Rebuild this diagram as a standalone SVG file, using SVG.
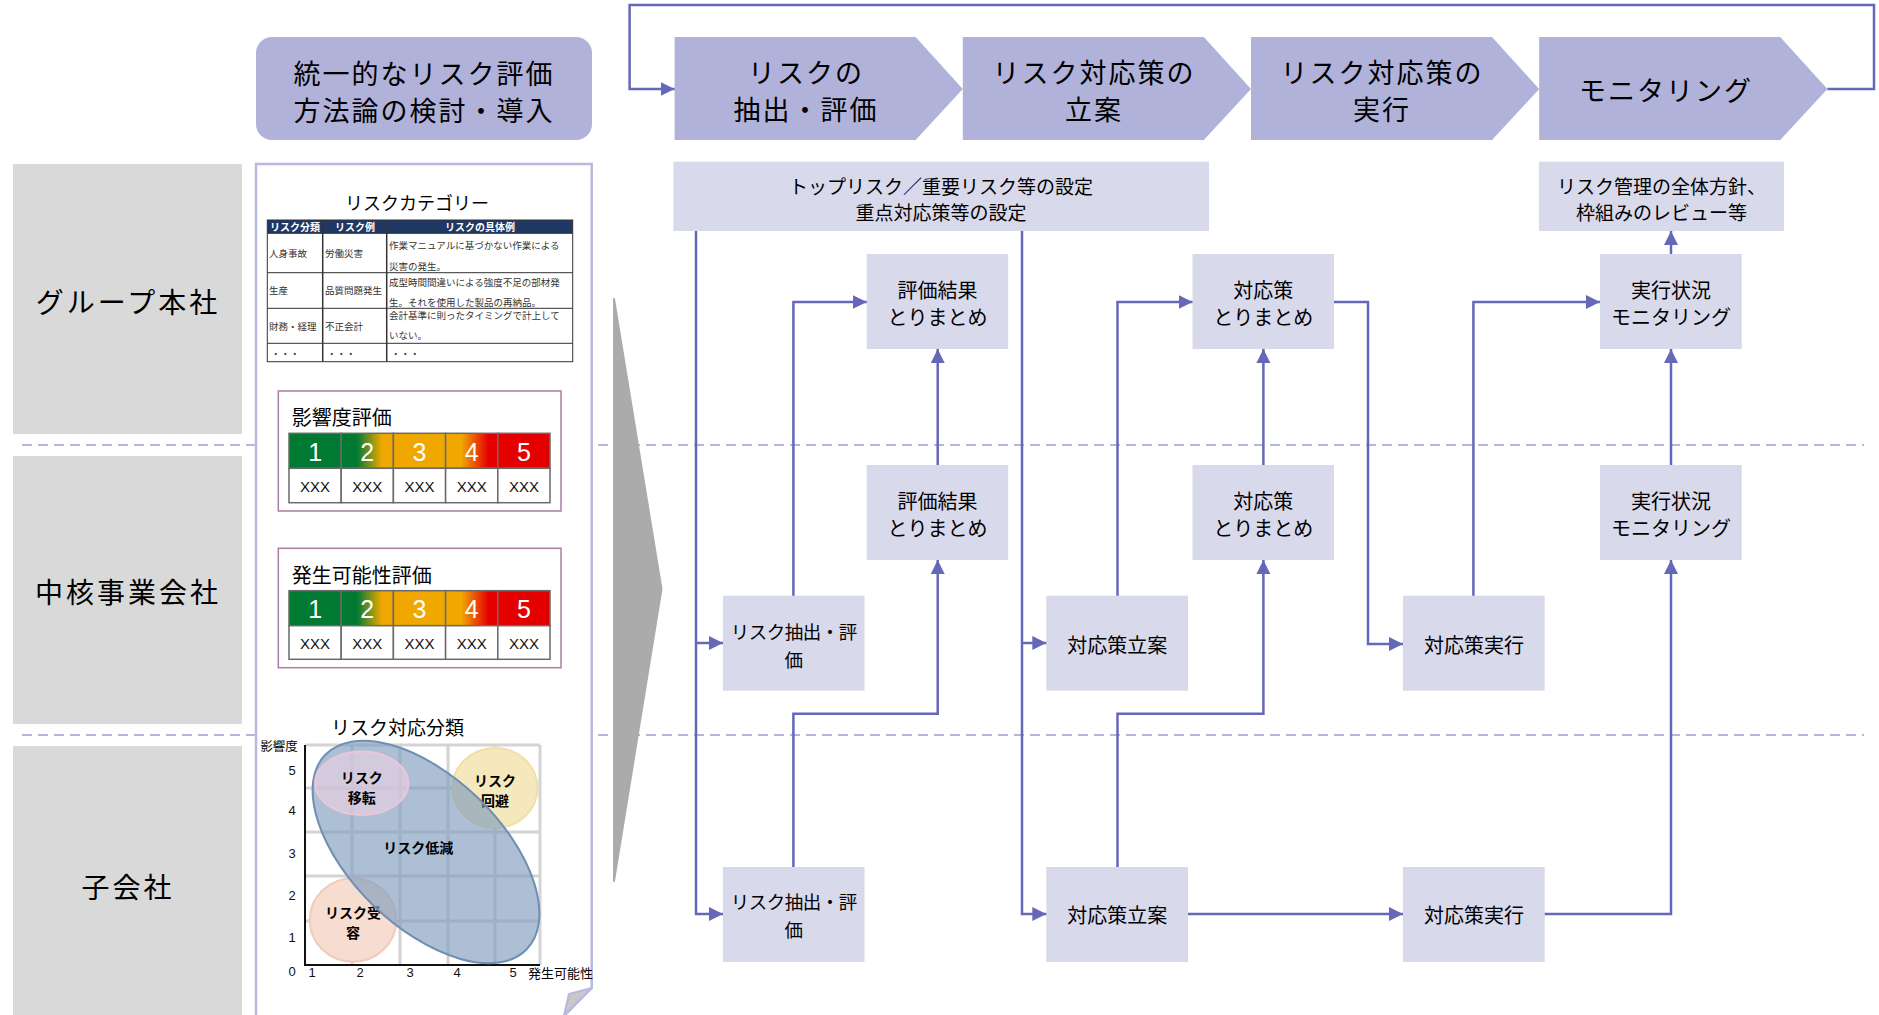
<svg xmlns="http://www.w3.org/2000/svg" width="1879" height="1015" viewBox="0 0 1879 1015">
<style>
.jp{font-family:'Noto Sans CJK JP','Noto Sans CJK SC',sans-serif;fill:#000}
.lat{font-family:'Liberation Sans',Arial,sans-serif}
.lane{fill:#d9d9d9}
.lanetxt{font-size:28px;letter-spacing:3px}
.dash{stroke:#b4b6de;stroke-width:2;stroke-dasharray:10,6;fill:none}
.chev{fill:#b0b2d9}
.chevtxt{font-size:27px;letter-spacing:2px}
.node{fill:#d9d9ec}
.ntxt{font-size:20px}
.etxt{font-size:18.5px}
.btxt{font-size:19px}
.conn{fill:none;stroke:#6567b8;stroke-width:2.5}
.arr{marker-end:url(#ah)}
.tb{font-size:9.5px;fill:#333}
.th{font-size:10px;font-weight:bold;fill:#fff}
.cell{stroke:#6a6a6a;stroke-width:1.5}
.num{font-size:25px;fill:#fff}
.xxx{font-size:15px;fill:#111}
.grid{stroke:#d4d4d4;stroke-width:3;fill:none}
.ax{font-size:13px;fill:#111}
.bl{font-size:14px;font-weight:bold}
</style>
<defs>
<marker id="ah" markerUnits="userSpaceOnUse" markerWidth="15" markerHeight="15" refX="14" refY="7" orient="auto">
<path d="M0,0 L14,7 L0,14 z" fill="#6567b8"/>
</marker>
<linearGradient id="g2" x1="0" y1="0" x2="1" y2="0">
<stop offset="0" stop-color="#007a33"/><stop offset="0.3" stop-color="#007a33"/><stop offset="0.78" stop-color="#f0a800"/><stop offset="1" stop-color="#f0a800"/>
</linearGradient>
<linearGradient id="g4" x1="0" y1="0" x2="1" y2="0">
<stop offset="0" stop-color="#f0a800"/><stop offset="0.3" stop-color="#f0a800"/><stop offset="0.82" stop-color="#e50000"/><stop offset="1" stop-color="#e50000"/>
</linearGradient>
</defs>
<rect width="1879" height="1015" fill="#fff"/>

<!-- lanes -->
<g id="lane-hq"><rect class="lane" x="13" y="164" width="229" height="270"/><text class="jp lanetxt" x="128" y="301" text-anchor="middle" dominant-baseline="central">グループ本社</text></g>
<g id="lane-core"><rect class="lane" x="13" y="456" width="229" height="268"/><text class="jp lanetxt" x="128" y="591" text-anchor="middle" dominant-baseline="central">中核事業会社</text></g>
<g id="lane-sub"><rect class="lane" x="13" y="746" width="229" height="280"/><text class="jp lanetxt" x="128" y="886" text-anchor="middle" dominant-baseline="central">子会社</text></g>

<g id="lane-dividers">
<line class="dash" x1="22" y1="445" x2="1864" y2="445"/>
<line class="dash" x1="22" y1="735" x2="1864" y2="735"/>
</g>

<!-- method box -->
<g id="method">
<rect x="256" y="37" width="336" height="103" rx="16" fill="#b0b2d9"/>
<text class="jp chevtxt" x="424" y="72" text-anchor="middle" dominant-baseline="central">統一的なリスク評価</text>
<text class="jp chevtxt" x="424" y="109" text-anchor="middle" dominant-baseline="central">方法論の検討・導入</text>
</g>

<!-- left panel -->
<g id="panel">
<path d="M256,1015 V164 H591.7 V988 L565,1015" fill="#fff" stroke="#b8b8e0" stroke-width="2.5"/>
<path d="M591.7,988 L569,994 L564,1015 Z" fill="#c8c8c8" stroke="#b8b8e0" stroke-width="2" stroke-linejoin="round"/>

<text class="jp" x="417" y="202" font-size="18" text-anchor="middle" dominant-baseline="central">リスクカテゴリー</text>
<rect x="267.3" y="220" width="305.4" height="13.3" fill="#1f3864"/>
<text class="jp th" x="295" y="226.8" text-anchor="middle" dominant-baseline="central">リスク分類</text>
<text class="jp th" x="355" y="226.8" text-anchor="middle" dominant-baseline="central">リスク例</text>
<text class="jp th" x="480" y="226.8" text-anchor="middle" dominant-baseline="central">リスクの具体例</text>
<g stroke="#333" stroke-width="1" fill="none">
<rect x="267.3" y="220" width="305.4" height="141.7"/>
<line x1="267.3" y1="272.7" x2="572.7" y2="272.7"/>
<line x1="267.3" y1="308.3" x2="572.7" y2="308.3"/>
<line x1="267.3" y1="343.3" x2="572.7" y2="343.3"/>
<line x1="267.3" y1="233.3" x2="572.7" y2="233.3"/>
<line x1="322.7" y1="220" x2="322.7" y2="361.7" stroke-width="1.5"/>
<line x1="386.7" y1="220" x2="386.7" y2="361.7" stroke-width="1.5"/>
</g>
<g class="jp tb" dominant-baseline="central">
<text x="269" y="253">人身事故</text>
<text x="325" y="253">労働災害</text>
<text x="389" y="245">作業マニュアルに基づかない作業による</text>
<text x="389" y="266">災害の発生。</text>
<text x="269" y="290">生産</text>
<text x="325" y="290">品質問題発生</text>
<text x="389" y="281.7">成型時間間違いによる強度不足の部材発</text>
<text x="389" y="301.5">生。それを使用した製品の再納品。</text>
<text x="269" y="325.5">財務・経理</text>
<text x="325" y="325.5">不正会計</text>
<text x="389" y="315">会計基準に則ったタイミングで計上して</text>
<text x="389" y="335">いない。</text>
<text x="271" y="352.5">・・・</text>
<text x="327" y="352.5">・・・</text>
<text x="391" y="352.5">・・・</text>
</g>

<!-- impact -->
<rect x="278.3" y="391" width="282.7" height="120" fill="none" stroke="#ab7ea0" stroke-width="1.5"/>
<text class="jp" x="291.7" y="416.7" font-size="20" dominant-baseline="central">影響度評価</text>
<rect class="cell" x="289" y="433.3" width="52.2" height="35" fill="#007a33"/>
<rect class="cell" x="341.2" y="433.3" width="52.2" height="35" fill="url(#g2)"/>
<rect class="cell" x="393.4" y="433.3" width="52.2" height="35" fill="#f0a800"/>
<rect class="cell" x="445.6" y="433.3" width="52.2" height="35" fill="url(#g4)"/>
<rect class="cell" x="497.8" y="433.3" width="52.2" height="35" fill="#e50000"/>
<g class="lat num" text-anchor="middle" dominant-baseline="central">
<text x="315.1" y="452">1</text><text x="367.3" y="452">2</text><text x="419.5" y="452">3</text><text x="471.7" y="452">4</text><text x="523.9" y="452">5</text>
</g>
<g fill="#fff"><rect class="cell" x="289" y="468.3" width="52.2" height="34.4"/><rect class="cell" x="341.2" y="468.3" width="52.2" height="34.4"/><rect class="cell" x="393.4" y="468.3" width="52.2" height="34.4"/><rect class="cell" x="445.6" y="468.3" width="52.2" height="34.4"/><rect class="cell" x="497.8" y="468.3" width="52.2" height="34.4"/></g>
<g class="lat xxx" text-anchor="middle" dominant-baseline="central">
<text x="315.1" y="486">XXX</text><text x="367.3" y="486">XXX</text><text x="419.5" y="486">XXX</text><text x="471.7" y="486">XXX</text><text x="523.9" y="486">XXX</text>
</g>

<!-- likelihood -->
<rect x="278.3" y="548.3" width="282.7" height="119.4" fill="none" stroke="#ab7ea0" stroke-width="1.5"/>
<text class="jp" x="291.7" y="574.3" font-size="20" dominant-baseline="central">発生可能性評価</text>
<rect class="cell" x="289" y="590.7" width="52.2" height="35" fill="#007a33"/>
<rect class="cell" x="341.2" y="590.7" width="52.2" height="35" fill="url(#g2)"/>
<rect class="cell" x="393.4" y="590.7" width="52.2" height="35" fill="#f0a800"/>
<rect class="cell" x="445.6" y="590.7" width="52.2" height="35" fill="url(#g4)"/>
<rect class="cell" x="497.8" y="590.7" width="52.2" height="35" fill="#e50000"/>
<g class="lat num" text-anchor="middle" dominant-baseline="central">
<text x="315.1" y="609.4">1</text><text x="367.3" y="609.4">2</text><text x="419.5" y="609.4">3</text><text x="471.7" y="609.4">4</text><text x="523.9" y="609.4">5</text>
</g>
<g fill="#fff"><rect class="cell" x="289" y="625.7" width="52.2" height="33.6"/><rect class="cell" x="341.2" y="625.7" width="52.2" height="33.6"/><rect class="cell" x="393.4" y="625.7" width="52.2" height="33.6"/><rect class="cell" x="445.6" y="625.7" width="52.2" height="33.6"/><rect class="cell" x="497.8" y="625.7" width="52.2" height="33.6"/></g>
<g class="lat xxx" text-anchor="middle" dominant-baseline="central">
<text x="315.1" y="643">XXX</text><text x="367.3" y="643">XXX</text><text x="419.5" y="643">XXX</text><text x="471.7" y="643">XXX</text><text x="523.9" y="643">XXX</text>
</g>

<!-- response matrix -->
<text class="jp" x="397.5" y="726.7" font-size="19" text-anchor="middle" dominant-baseline="central">リスク対応分類</text>
<path class="grid" d="M352,745 V965 M400,745 V965 M448,745 V965 M495,745 V965 M540,745 V965 M305,745 H540 M305,788 H540 M305,832 H540 M305,876 H540 M305,921 H540"/>
<path d="M305,745 V965 H540" fill="none" stroke="#111" stroke-width="2"/>
<text class="jp" x="279" y="745" font-size="12.5" text-anchor="middle" dominant-baseline="central">影響度</text>
<g class="lat ax" text-anchor="middle" dominant-baseline="central">
<text x="292" y="770">5</text><text x="292" y="810">4</text><text x="292" y="853">3</text><text x="292" y="895">2</text><text x="292" y="937">1</text><text x="292" y="971">0</text>
<text x="312" y="972">1</text><text x="360" y="972">2</text><text x="410" y="972">3</text><text x="457" y="972">4</text><text x="513" y="972">5</text>
</g>
<text class="jp" x="528" y="972" font-size="13" dominant-baseline="central">発生可能性</text>

<ellipse cx="495" cy="788" rx="42.5" ry="40" fill="#f6e8bd" stroke="#f2dea6" stroke-width="2"/>
<text class="jp bl" x="495" y="780" text-anchor="middle" dominant-baseline="central">リスク</text>
<text class="jp bl" x="495" y="800" text-anchor="middle" dominant-baseline="central">回避</text>
<ellipse cx="353" cy="920" rx="43.3" ry="41.7" fill="#f6ddd0" stroke="#f1cbb8" stroke-width="2"/>
<text class="jp bl" x="353" y="911.7" text-anchor="middle" dominant-baseline="central">リスク受</text>
<text class="jp bl" x="353" y="931.7" text-anchor="middle" dominant-baseline="central">容</text>
<ellipse cx="426" cy="852" rx="140" ry="75" transform="rotate(44 426 852)" fill="#7f9cbd" fill-opacity="0.65" stroke="#6f8fb3" stroke-width="2"/>
<ellipse cx="361.7" cy="783.3" rx="46.7" ry="31.7" fill="#ecd3e3" fill-opacity="0.6" stroke="#ecc6d8" stroke-width="2"/>
<text class="jp bl" x="361.7" y="777.3" text-anchor="middle" dominant-baseline="central">リスク</text>
<text class="jp bl" x="361.7" y="796.7" text-anchor="middle" dominant-baseline="central">移転</text>
<text class="jp bl" x="418.3" y="846.7" text-anchor="middle" dominant-baseline="central">リスク低減</text>
</g>

<!-- big gray arrow -->
<g id="big-arrow"><path d="M614,299 L661.5,589 L614,881 Z" fill="#ababab" stroke="#ababab" stroke-width="2" stroke-linejoin="round"/></g>

<!-- process chevrons -->
<g id="step1"><path class="chev" d="M674.6,37 H915.6 L962.8,89 L915.6,140 H674.6 Z"/>
<text class="jp chevtxt" x="806" y="71" text-anchor="middle" dominant-baseline="central">リスクの</text>
<text class="jp chevtxt" x="806" y="108" text-anchor="middle" dominant-baseline="central">抽出・評価</text></g>
<g id="step2"><path class="chev" d="M962.8,37 H1203.8 L1251,89 L1203.8,140 H962.8 Z"/>
<text class="jp chevtxt" x="1094" y="71" text-anchor="middle" dominant-baseline="central">リスク対応策の</text>
<text class="jp chevtxt" x="1094" y="108" text-anchor="middle" dominant-baseline="central">立案</text></g>
<g id="step3"><path class="chev" d="M1251,37 H1492 L1539.2,89 L1492,140 H1251 Z"/>
<text class="jp chevtxt" x="1382" y="71" text-anchor="middle" dominant-baseline="central">リスク対応策の</text>
<text class="jp chevtxt" x="1382" y="108" text-anchor="middle" dominant-baseline="central">実行</text></g>
<g id="step4"><path class="chev" d="M1539.2,37 H1780.2 L1827.4,89 L1780.2,140 H1539.2 Z"/>
<text class="jp chevtxt" x="1666" y="89" text-anchor="middle" dominant-baseline="central">モニタリング</text></g>

<!-- nodes -->
<g id="n-top"><rect class="node" x="673.4" y="161.7" width="535.6" height="69.3"/>
<text class="jp btxt" x="941" y="185" text-anchor="middle" dominant-baseline="central">トップリスク／重要リスク等の設定</text>
<text class="jp btxt" x="941" y="211" text-anchor="middle" dominant-baseline="central">重点対応策等の設定</text></g>
<g id="n-review"><rect class="node" x="1539" y="161.7" width="245" height="69.3"/>
<text class="jp btxt" x="1661.5" y="185" text-anchor="middle" dominant-baseline="central">リスク管理の全体方針、</text>
<text class="jp btxt" x="1661.5" y="211" text-anchor="middle" dominant-baseline="central">枠組みのレビュー等</text></g>

<g id="n-eval-hq"><rect class="node" x="866.7" y="254" width="141.5" height="95"/>
<text class="jp ntxt" x="937.5" y="289" text-anchor="middle" dominant-baseline="central">評価結果</text>
<text class="jp ntxt" x="937.5" y="316" text-anchor="middle" dominant-baseline="central">とりまとめ</text></g>
<g id="n-eval-core"><rect class="node" x="866.7" y="465" width="141.5" height="95"/>
<text class="jp ntxt" x="937.5" y="500" text-anchor="middle" dominant-baseline="central">評価結果</text>
<text class="jp ntxt" x="937.5" y="527" text-anchor="middle" dominant-baseline="central">とりまとめ</text></g>
<g id="n-sum-hq"><rect class="node" x="1192.5" y="254" width="141.5" height="95"/>
<text class="jp ntxt" x="1263.3" y="289" text-anchor="middle" dominant-baseline="central">対応策</text>
<text class="jp ntxt" x="1263.3" y="316" text-anchor="middle" dominant-baseline="central">とりまとめ</text></g>
<g id="n-sum-core"><rect class="node" x="1192.5" y="465" width="141.5" height="95"/>
<text class="jp ntxt" x="1263.3" y="500" text-anchor="middle" dominant-baseline="central">対応策</text>
<text class="jp ntxt" x="1263.3" y="527" text-anchor="middle" dominant-baseline="central">とりまとめ</text></g>
<g id="n-mon-hq"><rect class="node" x="1600" y="254" width="141.7" height="95"/>
<text class="jp ntxt" x="1670.9" y="289" text-anchor="middle" dominant-baseline="central">実行状況</text>
<text class="jp ntxt" x="1670.9" y="316" text-anchor="middle" dominant-baseline="central">モニタリング</text></g>
<g id="n-mon-core"><rect class="node" x="1600" y="465" width="141.7" height="95"/>
<text class="jp ntxt" x="1670.9" y="500" text-anchor="middle" dominant-baseline="central">実行状況</text>
<text class="jp ntxt" x="1670.9" y="527" text-anchor="middle" dominant-baseline="central">モニタリング</text></g>

<g id="n-ext-core"><rect class="node" x="723" y="595.7" width="141.5" height="95"/>
<text class="jp etxt" x="793.7" y="631" text-anchor="middle" dominant-baseline="central" letter-spacing="-0.5">リスク抽出・評</text>
<text class="jp etxt" x="793.7" y="659" text-anchor="middle" dominant-baseline="central">価</text></g>
<g id="n-ext-sub"><rect class="node" x="723" y="867" width="141.5" height="95"/>
<text class="jp etxt" x="793.7" y="901" text-anchor="middle" dominant-baseline="central" letter-spacing="-0.5">リスク抽出・評</text>
<text class="jp etxt" x="793.7" y="929" text-anchor="middle" dominant-baseline="central">価</text></g>
<g id="n-plan-core"><rect class="node" x="1046.3" y="595.7" width="141.7" height="95"/>
<text class="jp ntxt" x="1117.2" y="644" text-anchor="middle" dominant-baseline="central">対応策立案</text></g>
<g id="n-plan-sub"><rect class="node" x="1046.3" y="867" width="141.7" height="95"/>
<text class="jp ntxt" x="1117.2" y="914" text-anchor="middle" dominant-baseline="central">対応策立案</text></g>
<g id="n-exec-core"><rect class="node" x="1403" y="595.7" width="141.7" height="95"/>
<text class="jp ntxt" x="1473.9" y="644" text-anchor="middle" dominant-baseline="central">対応策実行</text></g>
<g id="n-exec-sub"><rect class="node" x="1403" y="867" width="141.7" height="95"/>
<text class="jp ntxt" x="1473.9" y="914" text-anchor="middle" dominant-baseline="central">対応策実行</text></g>

<!-- connectors -->
<g id="connectors">
<path class="conn arr" d="M1827.4,89 H1874 V5 H629.6 V89 H674.6"/>
<path class="conn arr" d="M696,231 V914 H723"/>
<path class="conn arr" d="M696,643 H723"/>
<path class="conn arr" d="M1022,231 V914 H1046.3"/>
<path class="conn arr" d="M1022,643 H1046.3"/>
<path class="conn arr" d="M793.4,595.7 V302 H866.7"/>
<path class="conn arr" d="M793.4,867 V713.7 H937.7 V560"/>
<path class="conn arr" d="M937.7,465 V349"/>
<path class="conn arr" d="M1117.5,595.7 V302 H1192.5"/>
<path class="conn arr" d="M1117.5,867 V713.7 H1263.4 V560"/>
<path class="conn arr" d="M1263.4,465 V349"/>
<path class="conn arr" d="M1334,302 H1368 V644 H1403"/>
<path class="conn arr" d="M1188,914 H1403"/>
<path class="conn arr" d="M1473.4,595.7 V302 H1600"/>
<path class="conn arr" d="M1544.7,914 H1671 V560"/>
<path class="conn arr" d="M1671,465 V349"/>
<path class="conn arr" d="M1671,254 V231"/>
</g>
</svg>
